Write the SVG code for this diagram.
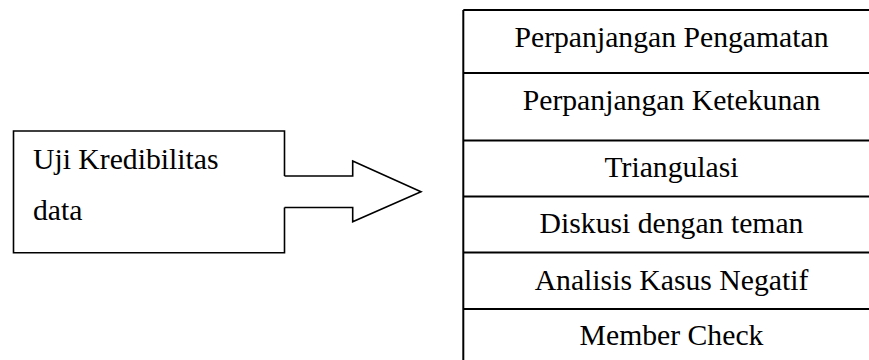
<svg xmlns="http://www.w3.org/2000/svg" width="869" height="360" viewBox="0 0 869 360">
<style>
.ln{fill:none;stroke:#000;stroke-width:1.6;stroke-linejoin:miter}
.tl{fill:none;stroke:#000;stroke-width:2}
.t{font-family:'Liberation Serif','Times New Roman',Times,'DejaVu Serif',serif;font-size:29.7px;fill:#000}
.c{text-anchor:middle}
</style>
<rect width="869" height="360" fill="#fff"/>
<g id="source">
<path class="ln" d="M284.5,176 V131 H13.5 V252.7 H284.5 V207.5"/>
<text class="t" x="33" y="169">Uji Kredibilitas</text>
<text class="t" x="33" y="220">data</text>
</g>
<g id="connectors">
<path class="ln" d="M284.5,176 H352.7 V161 L421,191.7 L352.7,221.7 V207.5 H284.5"/>
</g>
<g id="table">
<path class="tl" d="M463.3,10 H875 M463.3,10 V365"/>
<g id="r1"><text class="t c" x="671.5" y="47">Perpanjangan Pengamatan</text><line class="tl" x1="463.3" y1="73" x2="875" y2="73"/></g>
<g id="r2"><text class="t c" x="671.5" y="110">Perpanjangan Ketekunan</text><line class="tl" x1="463.3" y1="140.5" x2="875" y2="140.5"/></g>
<g id="r3"><text class="t c" x="671.5" y="176.5">Triangulasi</text><line class="tl" x1="463.3" y1="196.5" x2="875" y2="196.5"/></g>
<g id="r4"><text class="t c" x="671.5" y="233.3">Diskusi dengan teman</text><line class="tl" x1="463.3" y1="252.5" x2="875" y2="252.5"/></g>
<g id="r5"><text class="t c" x="671.5" y="290">Analisis Kasus Negatif</text><line class="tl" x1="463.3" y1="309" x2="875" y2="309"/></g>
<g id="r6"><text class="t c" x="671.5" y="345">Member Check</text></g>
</g>
</svg>
